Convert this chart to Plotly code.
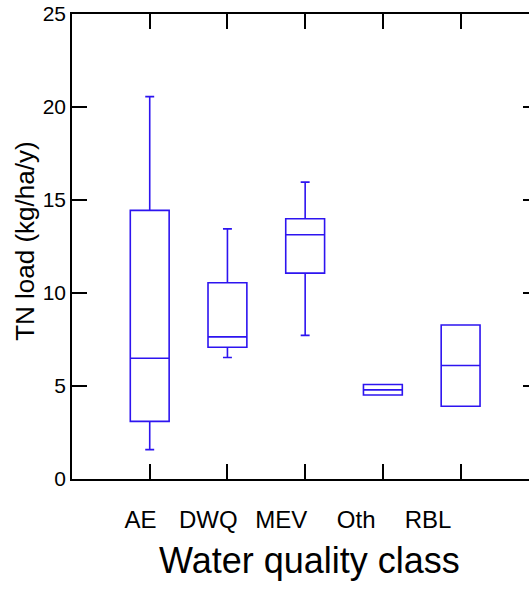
import plotly.graph_objects as go

categories = ["AE", "DWQ", "MEV", "Oth", "RBL"]
lower_whisker = [1.58, 6.53, 7.72, 4.52, 3.91]
q1_values = [3.10, 7.08, 11.07, 4.52, 3.91]
median_values = [6.49, 7.64, 13.13, 4.79, 6.10]
q3_values = [14.44, 10.55, 13.99, 5.08, 8.28]
upper_whisker = [20.56, 13.45, 15.96, 5.08, 8.28]
y_ticks = [0, 5, 10, 15, 20, 25]

W, H = 529, 598
L, R, T, B = 71.5, 0, 14, 118.5
blue = "rgb(45,20,240)"

fig = go.Figure()
fig.add_trace(go.Box(
    x=categories, q1=q1_values, median=median_values, q3=q3_values,
    lowerfence=lower_whisker, upperfence=upper_whisker,
    width=0.5, whiskerwidth=0.23, boxpoints=False,
    line=dict(color=blue, width=1.6), fillcolor="rgba(0,0,0,0)",
    showlegend=False, hoverinfo="skip",
))
# empty helper trace so secondary axes render
fig.add_trace(go.Scatter(x=[None], y=[None], xaxis="x2", yaxis="y2",
                         showlegend=False, hoverinfo="skip"))

# label layout positions (pixels across the page)
label_px = [140, 208, 281, 356, 428]

fig.update_layout(
    width=W, height=H,
    margin=dict(l=L, r=R, t=T, b=B, pad=0),
    paper_bgcolor="white", plot_bgcolor="white",
    font=dict(family="Liberation Sans, Arial", color="black"),
    xaxis=dict(
        type="category", range=[-1, 4.88],
        showline=True, linecolor="black", linewidth=1.5, mirror="ticks",
        ticks="inside", ticklen=15, tickwidth=1.5, tickcolor="black",
        showticklabels=False, showgrid=False, zeroline=False,
    ),
    xaxis2=dict(
        overlaying="x", anchor="y", side="bottom",
        range=[L, W], tickmode="array", tickvals=label_px, ticktext=categories,
        ticks="outside", ticklen=19, tickcolor="rgba(0,0,0,0)",
        showline=False, showgrid=False, zeroline=False,
        tickfont=dict(size=24, color="black"),
    ),
    yaxis=dict(
        range=[0, 25], tickvals=y_ticks,
        showline=True, linecolor="black", linewidth=1.5,
        ticks="inside", ticklen=15, tickwidth=1.5, tickcolor="black",
        showgrid=False, zeroline=False,
        tickfont=dict(size=21, color="black"),
    ),
    yaxis2=dict(
        overlaying="y", side="right", anchor="x", range=[0, 25], tickvals=y_ticks,
        ticks="inside", ticklen=6, tickwidth=1.5, tickcolor="black",
        showticklabels=False, showline=False, showgrid=False, zeroline=False,
    ),
    annotations=[
        dict(text="TN load (kg/ha/y)", textangle=-90, showarrow=False,
             xref="paper", yref="paper", x=0, y=0.51, xshift=-47,
             xanchor="center", yanchor="middle", font=dict(size=26)),
        dict(text="Water quality class", showarrow=False,
             xref="paper", yref="paper", x=0.52, y=0, yshift=-81,
             xanchor="center", yanchor="middle", font=dict(size=36)),
    ],
)

fig.write_html("out.html")
